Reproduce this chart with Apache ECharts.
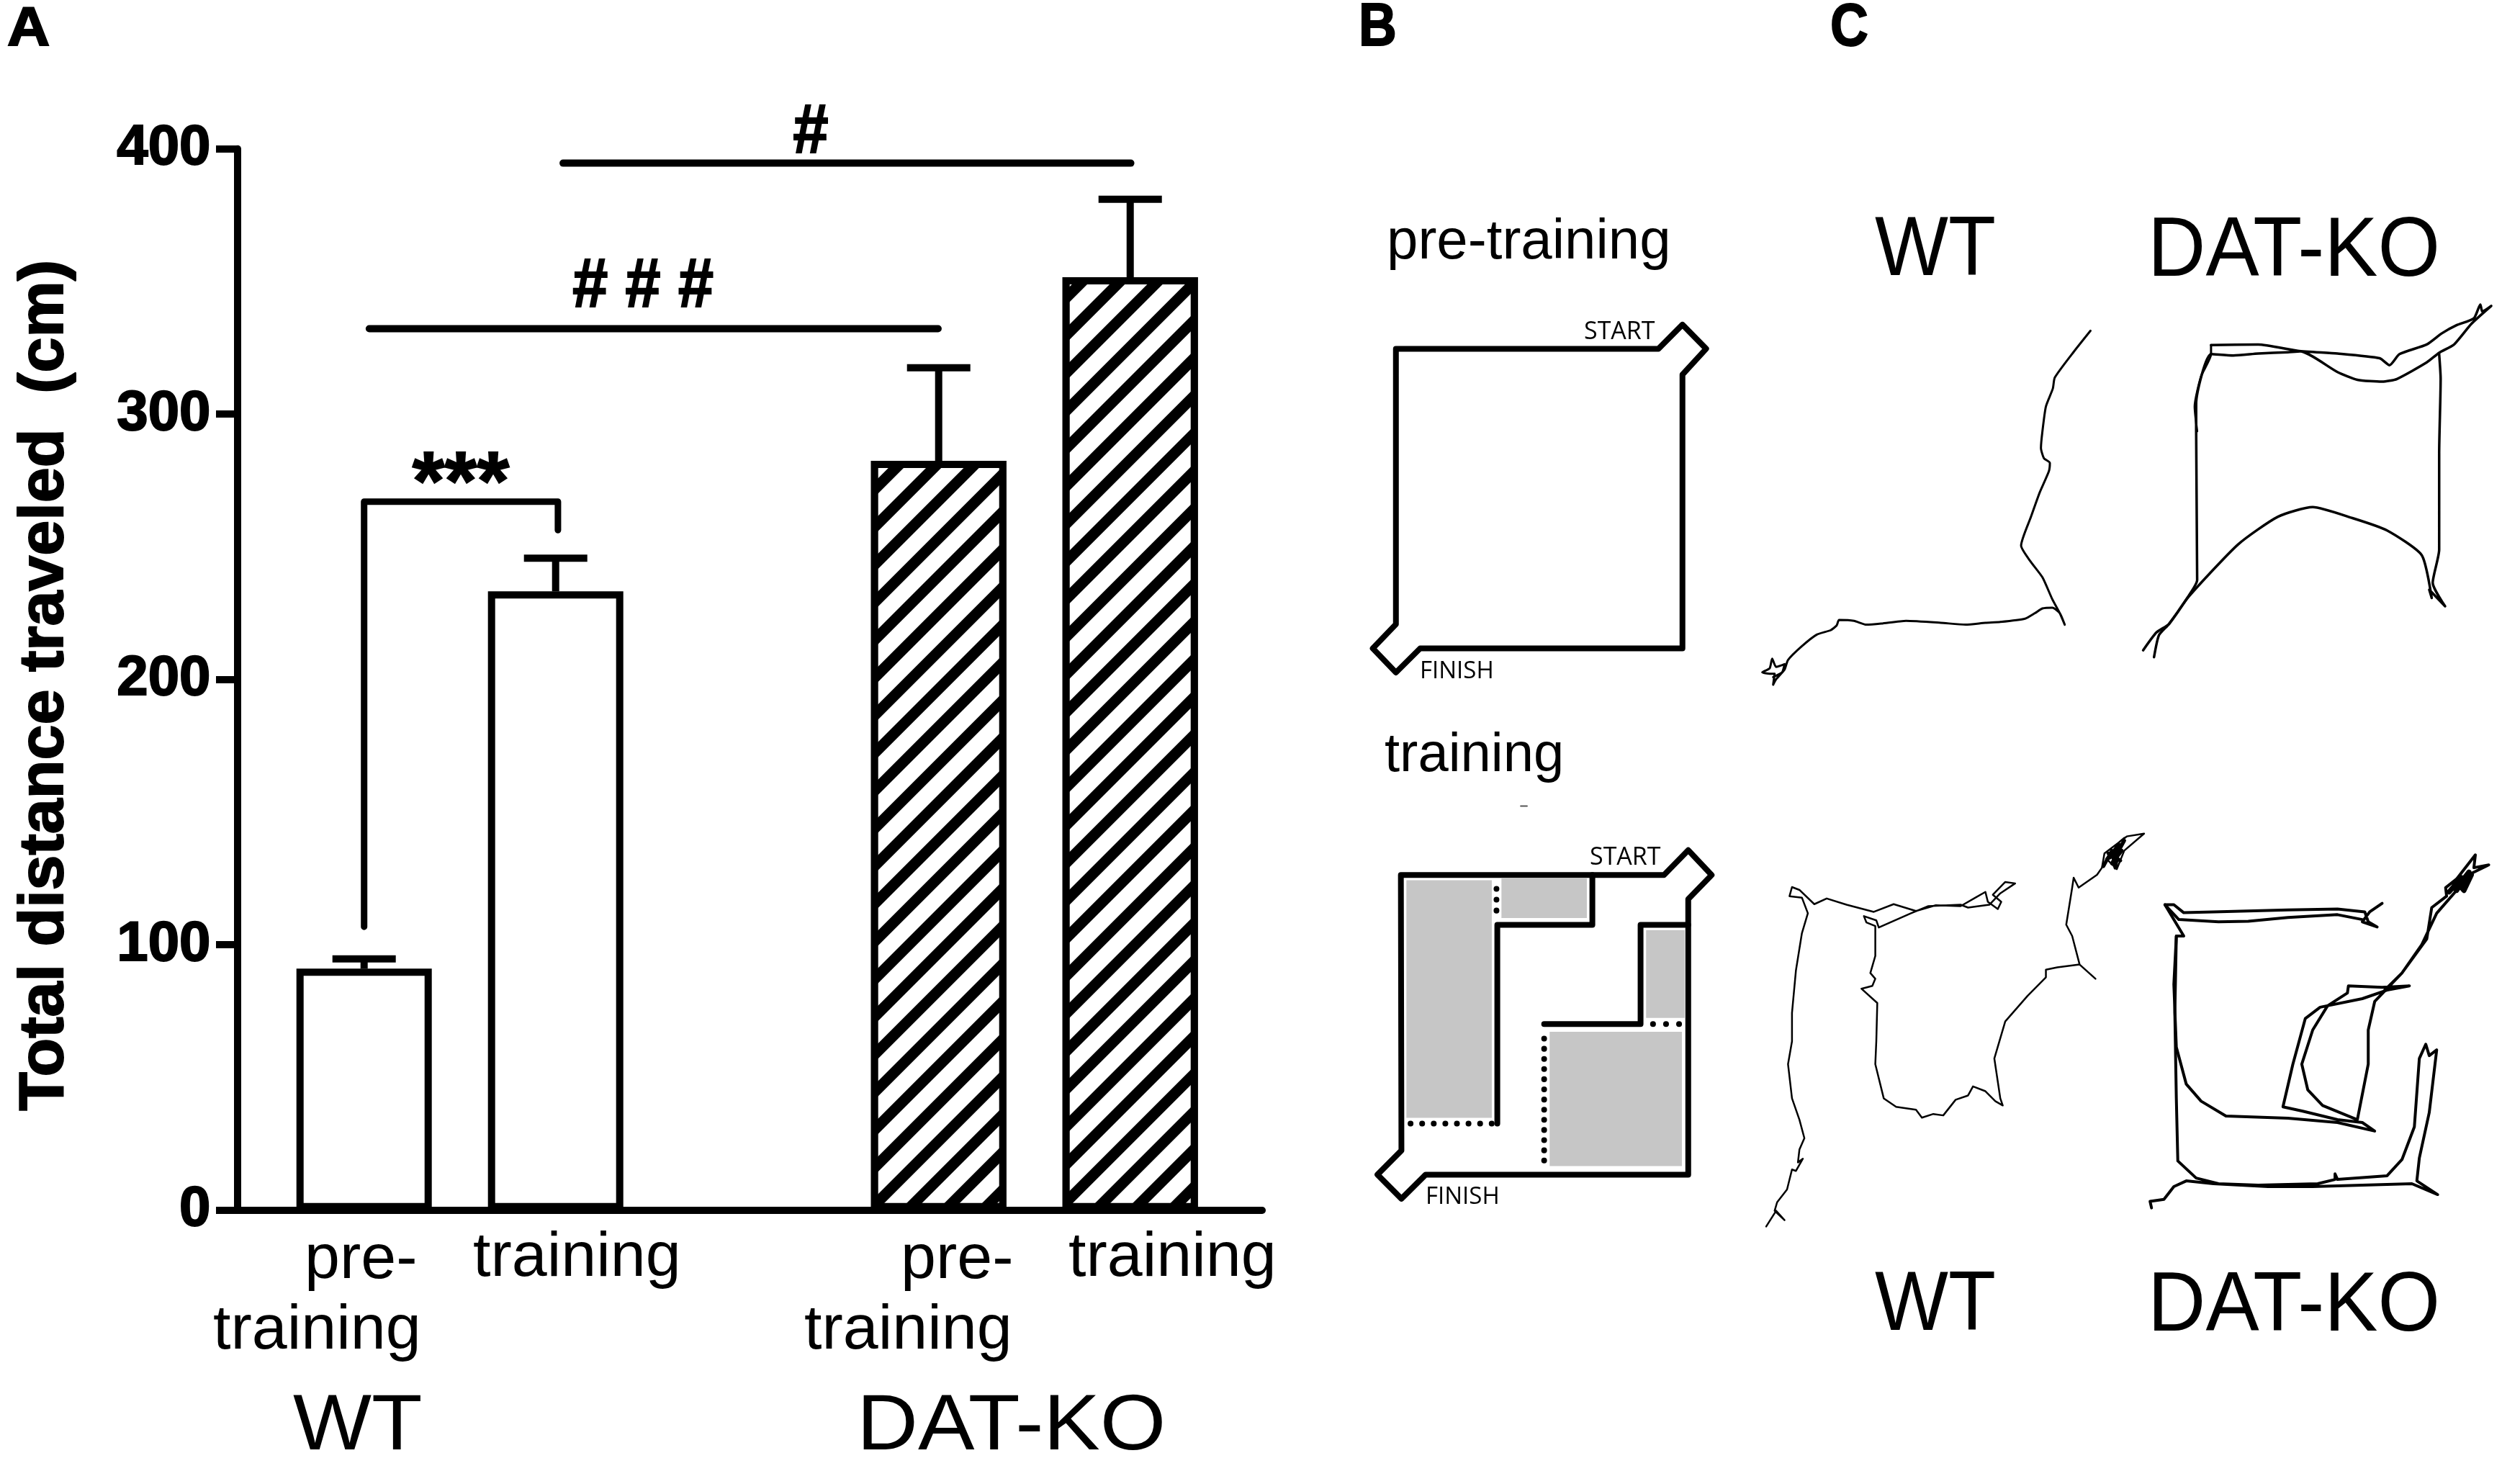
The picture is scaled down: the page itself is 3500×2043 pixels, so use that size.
<!DOCTYPE html>
<html>
<head>
    <meta charset="utf-8">
    <title>Total distance traveled</title>
    <script src="https://cdn.jsdelivr.net/npm/echarts@6/dist/echarts.min.js"></script>
    <style>
        html, body { margin: 0; padding: 0; background: #fff; }
        #main { width: 3500px; height: 2043px; }
    </style>
</head>
<body>
<div id="main"></div>
<script type="text/javascript">
    // panel A values
    var yTicks = [0, 100, 200, 300, 400];
    var barSlots = [0, 1, 3, 4];
    var barMeans = [91, 233.2, 282.4, 351.6];
    var barUpper = [94.7, 245.7, 317.5, 381];
    var barHatched = [false, false, true, true];

    // significance lines, [slot, value]
    var starsBracket = [[0, 106.8], [0, 267], [1.012, 267], [1.012, 256.3]];
    var tripleHashLine = [[0.027, 332.2], [2.997, 332.2]];
    var singleHashLine = [[1.039, 394.6], [4.003, 394.6]];

    // panel B maze outlines on a 0-1568 square per drawing
    var mazePre = [[232, 490], [1185, 490], [1272, 420], [1358, 490], [1272, 565], [1272, 1360], [320, 1360], [232, 1430], [148, 1360], [232, 1290], [232, 490]];
    var mazeTrain = [[250, 450], [1205, 450], [1293, 378], [1378, 450], [1293, 520], [1293, 1320], [340, 1320], [252, 1390], [165, 1320], [252, 1250], [250, 450]];
    var wallTopLeft = [[945, 450], [945, 595], [600, 595], [600, 1172]];
    var wallRight = [[1293, 595], [1120, 595], [1120, 883], [770, 883]];
    var doorTop = [[597, 490], [597, 575]];
    var doorLeft = [[285, 1172], [585, 1172]];
    var doorMiddle = [[770, 925], [770, 1290]];
    var doorRight = [[1165, 883], [1290, 883]];
    var strayDash = [[685, 250], [708, 250]];
    var greyZones = [[270, 465, 580, 1155], [615, 460, 925, 575], [1140, 610, 1280, 865], [790, 905, 1270, 1295]];

    // panel C tracks, pre-training row
    var trackWtPre = [[702, 155], [668, 232], [630, 325], [626, 365], [612, 430], [605, 520], [602, 580], [608, 618], [620, 635], [618, 665], [600, 740], [582, 830], [562, 935], [580, 990], [605, 1050], [625, 1130], [640, 1180], [650, 1222], [640, 1180], [625, 1160], [605, 1163], [590, 1180], [570, 1200], [520, 1212], [490, 1215], [450, 1222], [400, 1215], [330, 1208], [280, 1218], [250, 1222], [225, 1208], [195, 1205], [190, 1225], [178, 1242], [150, 1258], [120, 1300], [92, 1350], [85, 1385], [68, 1420], [62, 1440], [65, 1400], [55, 1400], [40, 1395], [55, 1380], [60, 1345], [68, 1375], [85, 1365], [80, 1395], [62, 1412]];
    var trackKoPreA = [[945, 207], [1040, 205], [1120, 228], [1200, 238], [1285, 255], [1305, 280], [1325, 240], [1380, 205], [1410, 165], [1440, 135], [1475, 110], [1488, 60], [1492, 85], [1510, 65], [1470, 130], [1435, 205], [1405, 235], [1380, 270], [1320, 330], [1290, 340], [1240, 333], [1200, 305], [1125, 230], [1100, 233], [1040, 238], [990, 245], [945, 240], [915, 420], [915, 520], [917, 1060], [895, 1130], [860, 1220], [840, 1260], [830, 1340]];
    var trackKoPreB = [[945, 207], [945, 240], [925, 320], [912, 430], [917, 520]];
    var trackKoPreC = [[1405, 240], [1408, 330], [1405, 600], [1405, 950], [1392, 1070], [1417, 1155], [1385, 1095], [1390, 1125], [1370, 970], [1300, 880], [1230, 835], [1150, 795], [1080, 830], [1000, 930], [900, 1120], [860, 1220], [835, 1250], [808, 1315]];

    // panel C tracks, training row
    var trackWtTrain = [[48, 1450], [68, 1395], [85, 1428], [65, 1395], [70, 1365], [90, 1320], [100, 1250], [108, 1255], [122, 1212], [112, 1225], [115, 1180], [125, 1140], [115, 1075], [100, 1000], [92, 880], [100, 800], [100, 700], [108, 550], [120, 420], [132, 350], [120, 295], [95, 290], [100, 258], [115, 268], [145, 318], [170, 298], [210, 320], [265, 345], [305, 318], [350, 342], [390, 322], [440, 325], [470, 295], [490, 275], [495, 310], [515, 335], [522, 310], [505, 285], [530, 240], [550, 245], [520, 280], [498, 320], [455, 330], [440, 320], [375, 325], [340, 350], [275, 400], [270, 375], [245, 360], [250, 382], [268, 395], [268, 500], [258, 560], [268, 580], [262, 605], [240, 615], [272, 665], [270, 800], [268, 880], [285, 1000], [310, 1030], [350, 1040], [362, 1068], [385, 1055], [405, 1060], [430, 1005], [455, 990], [465, 958], [490, 975], [510, 1010], [525, 1025], [520, 1000], [508, 860], [530, 730], [575, 640], [612, 575], [612, 548], [635, 540], [680, 530], [712, 580], [680, 530], [665, 430], [653, 390], [665, 260], [668, 225], [678, 260], [715, 215], [725, 190], [730, 140], [775, 80], [810, 70], [770, 130], [755, 195], [735, 160], [760, 100], [770, 85]];
    var scribbleWtTrain = [[728, 185], [745, 130], [752, 190], [760, 110], [735, 160], [765, 130], [745, 175], [770, 95], [750, 150], [762, 165], [738, 140]];
    var trackKoTrainA = [[1290, 315], [1265, 345], [1250, 380], [1280, 398], [1262, 380], [1255, 345], [1200, 335], [1100, 338], [950, 345], [890, 348], [870, 320], [852, 320], [880, 372], [960, 380], [1020, 378], [1100, 365], [1200, 355], [1250, 372]];
    var trackKoTrainB = [[852, 320], [890, 430], [875, 430], [872, 700], [875, 1000], [878, 1220], [915, 1280], [960, 1300], [1040, 1305], [1160, 1300], [1195, 1285], [1195, 1265], [1200, 1285], [1300, 1272], [1330, 1215], [1355, 1100], [1365, 860], [1378, 810], [1385, 850], [1400, 830], [1385, 1050], [1365, 1210], [1360, 1290], [1402, 1338], [1350, 1300], [1150, 1310], [1060, 1310], [950, 1300], [895, 1290], [870, 1310], [850, 1355], [822, 1362], [825, 1385]];
    var trackKoTrainC = [[875, 430], [870, 600], [875, 820], [895, 950], [925, 1010], [975, 1062], [1100, 1070], [1200, 1085], [1275, 1115], [1250, 1085], [1200, 1075], [1130, 1045], [1090, 1030], [1110, 880], [1135, 720], [1165, 680], [1250, 650], [1300, 620], [1345, 605], [1290, 610], [1222, 605], [1220, 630], [1180, 675], [1150, 760], [1128, 880], [1140, 970], [1170, 1025], [1240, 1075], [1262, 880], [1262, 760], [1275, 660], [1330, 560], [1380, 440], [1390, 330], [1420, 290], [1418, 260], [1440, 230], [1478, 145], [1475, 190], [1505, 180], [1470, 210], [1440, 270], [1400, 350], [1370, 460], [1330, 560], [1295, 620]];
    var scribbleKoTrain = [[1425, 275], [1450, 225], [1440, 270], [1465, 205], [1445, 250], [1455, 270], [1470, 215], [1435, 245], [1460, 240], [1430, 265]];

    var FONT = '"Liberation Sans", Arial, sans-serif';

    // annotations are plain text placed by baseline on the page
    function label(text, x, baseline, size, opts) {
        opts = opts || {};
        return {
            type: 'text',
            x: x,
            y: baseline - size * 0.31,
            rotation: opts.rotation || 0,
            scaleX: opts.scaleX || 1,
            scaleY: opts.scaleY || 1,
            silent: true,
            z: 20,
            style: {
                text: text,
                fill: '#000',
                stroke: opts.bold ? '#000' : null,
                lineWidth: opts.bold ? 2 : 0,
                font: (opts.bold ? 'bold ' : '') + size + 'px ' + (opts.family || FONT),
                align: opts.align || 'left',
                verticalAlign: 'middle'
            }
        };
    }

    function hiddenAxes(gridIndex) {
        return {
            x: {type: 'value', gridIndex: gridIndex, show: false, min: 0, max: 1568},
            y: {type: 'value', gridIndex: gridIndex, show: false, min: 0, max: 1568, inverse: true}
        };
    }

    function path(points, axisIndex, width, extra) {
        extra = extra || {};
        var style = {color: extra.color || '#000', width: width, join: 'round', cap: 'round'};
        if (extra.type) {
            style.type = extra.type;
        }
        return {
            type: 'line',
            xAxisIndex: axisIndex,
            yAxisIndex: axisIndex,
            data: points,
            showSymbol: false,
            symbol: 'none',
            smooth: extra.smooth || false,
            clip: false,
            z: 5,
            lineStyle: style
        };
    }

    var axes = [1, 2, 3, 4].map(hiddenAxes);

    var barSeries = {
        type: 'bar',
        xAxisIndex: 0,
        yAxisIndex: 0,
        barWidth: 188,
        z: 2,
        data: barSlots.map(function (slot, i) {
            var style = {color: '#fff', borderColor: '#000', borderWidth: 10};
            if (barHatched[i]) {
                style.decal = {
                    symbol: 'rect',
                    symbolSize: 1,
                    color: '#000',
                    backgroundColor: '#fff',
                    dashArrayX: [1, 0],
                    dashArrayY: [15, 22],
                    rotation: -Math.PI / 4
                };
            }
            return {value: [slot, barMeans[i]], itemStyle: style};
        })
    };

    var errorSeries = {
        type: 'custom',
        xAxisIndex: 0,
        yAxisIndex: 0,
        clip: false,
        z: 3,
        data: barSlots.map(function (slot, i) {
            return [slot, barMeans[i], barUpper[i]];
        }),
        renderItem: function (params, api) {
            var base = api.coord([api.value(0), api.value(1)]);
            var top = api.coord([api.value(0), api.value(2)]);
            var style = {stroke: '#000', lineWidth: 10, fill: null};
            return {
                type: 'group',
                children: [
                    {type: 'line', shape: {x1: base[0], y1: base[1], x2: top[0], y2: top[1]}, style: style},
                    {type: 'line', shape: {x1: top[0] - 44, y1: top[1], x2: top[0] + 44, y2: top[1]}, style: style}
                ]
            };
        }
    };

    var zoneSeries = {
        type: 'custom',
        xAxisIndex: 2,
        yAxisIndex: 2,
        clip: false,
        z: 1,
        data: greyZones,
        renderItem: function (params, api) {
            var a = api.coord([api.value(0), api.value(1)]);
            var b = api.coord([api.value(2), api.value(3)]);
            return {
                type: 'rect',
                shape: {x: a[0], y: a[1], width: b[0] - a[0], height: b[1] - a[1]},
                style: {fill: '#c6c6c6'}
            };
        }
    };

    var chart = echarts.init(document.getElementById('main'));
    chart.setOption({
        animation: false,
        backgroundColor: '#fff',
        grid: [
            {left: 329.5, top: 206.7, width: 1423.5, height: 1474},
            {left: 1850, top: 250, width: 600, height: 750},
            {left: 1850, top: 1000, width: 600, height: 750},
            {left: 2420, top: 400, width: 1080, height: 600},
            {left: 2420, top: 1130, width: 1080, height: 620}
        ],
        xAxis: [{
            type: 'value',
            gridIndex: 0,
            min: -0.6624,
            max: 4.689,
            splitLine: {show: false},
            axisTick: {show: false},
            axisLabel: {show: false},
            axisLine: {show: true, onZero: false, lineStyle: {color: '#000', width: 10}}
        }].concat(axes.map(function (a) { return a.x; })),
        yAxis: [{
            type: 'value',
            gridIndex: 0,
            min: yTicks[0],
            max: yTicks[yTicks.length - 1],
            interval: yTicks[1] - yTicks[0],
            splitLine: {show: false},
            axisLine: {show: true, onZero: false, lineStyle: {color: '#000', width: 10}},
            axisTick: {show: true, length: 29.5, lineStyle: {color: '#000', width: 10}},
            axisLabel: {
                color: '#000',
                fontFamily: FONT,
                fontWeight: 'bold',
                fontSize: 78,
                margin: 37,
                textBorderColor: '#000',
                textBorderWidth: 2
            }
        }].concat(axes.map(function (a) { return a.y; })),
        series: [
            barSeries,
            errorSeries,
            path(starsBracket, 0, 9),
            path(tripleHashLine, 0, 10),
            path(singleHashLine, 0, 10),
            zoneSeries,
            path(mazePre, 1, 8),
            path(mazeTrain, 2, 8),
            path(wallTopLeft, 2, 8),
            path(wallRight, 2, 8),
            path(doorTop, 2, 8, {type: [0.1, 15]}),
            path(doorLeft, 2, 8, {type: [0.1, 16]}),
            path(doorMiddle, 2, 8, {type: [0.1, 14]}),
            path(doorRight, 2, 8, {type: [0.1, 18]}),
            path(strayDash, 2, 2, {color: '#555'}),
            path(trackWtPre, 3, 3, {smooth: 0.2}),
            path(trackKoPreA, 3, 3.5, {smooth: 0.2}),
            path(trackKoPreB, 3, 3, {smooth: 0.2}),
            path(trackKoPreC, 3, 3.5, {smooth: 0.2}),
            path(trackWtTrain, 4, 2.5),
            path(scribbleWtTrain, 4, 5),
            path(trackKoTrainA, 4, 4),
            path(trackKoTrainB, 4, 4),
            path(trackKoTrainC, 4, 4),
            path(scribbleKoTrain, 4, 7)
        ],
        graphic: [
            label('A', 10, 66, 76, {bold: true, scaleX: 1.08}),
            label('B', 1887, 66, 84, {bold: true, scaleX: 0.87}),
            label('C', 2542, 66, 84, {bold: true, scaleX: 0.87}),
            label('Total distance traveled  (cm)', 63, 1570, 88, {bold: true, rotation: Math.PI / 2}),
            label('***', 640, 711, 115, {bold: true, align: 'center'}),
            label('# # #', 893, 427, 88, {bold: true, align: 'center', scaleY: 1.1}),
            label('#', 1126, 213, 88, {bold: true, align: 'center', scaleY: 1.1}),
            label('pre-', 423, 1778, 88),
            label('training', 296, 1876, 88),
            label('training', 657, 1775, 88),
            label('pre-', 1251, 1778, 88),
            label('training', 1117, 1876, 88),
            label('training', 1484, 1775, 88),
            label('WT', 407, 2017, 110, {scaleX: 1.05}),
            label('DAT-KO', 1190, 2017, 110, {scaleX: 1.07}),
            label('pre-training', 1926, 362, 78),
            label('training', 1923, 1074, 76),
            label('START', 2200, 472, 34, {family: '"Open Sans"'}),
            label('FINISH', 1972, 943, 33, {family: '"Open Sans"'}),
            label('START', 2208, 1202, 34, {family: '"Open Sans"'}),
            label('FINISH', 1980, 1673, 33, {family: '"Open Sans"'}),
            label('WT', 2604, 383, 108, {scaleY: 1.08}),
            label('DAT-KO', 2983, 383, 105, {scaleX: 1.06, scaleY: 1.12}),
            label('WT', 2604, 1848, 108, {scaleY: 1.08}),
            label('DAT-KO', 2983, 1848, 105, {scaleX: 1.06, scaleY: 1.12})
        ]
    });
</script>
</body>
</html>
